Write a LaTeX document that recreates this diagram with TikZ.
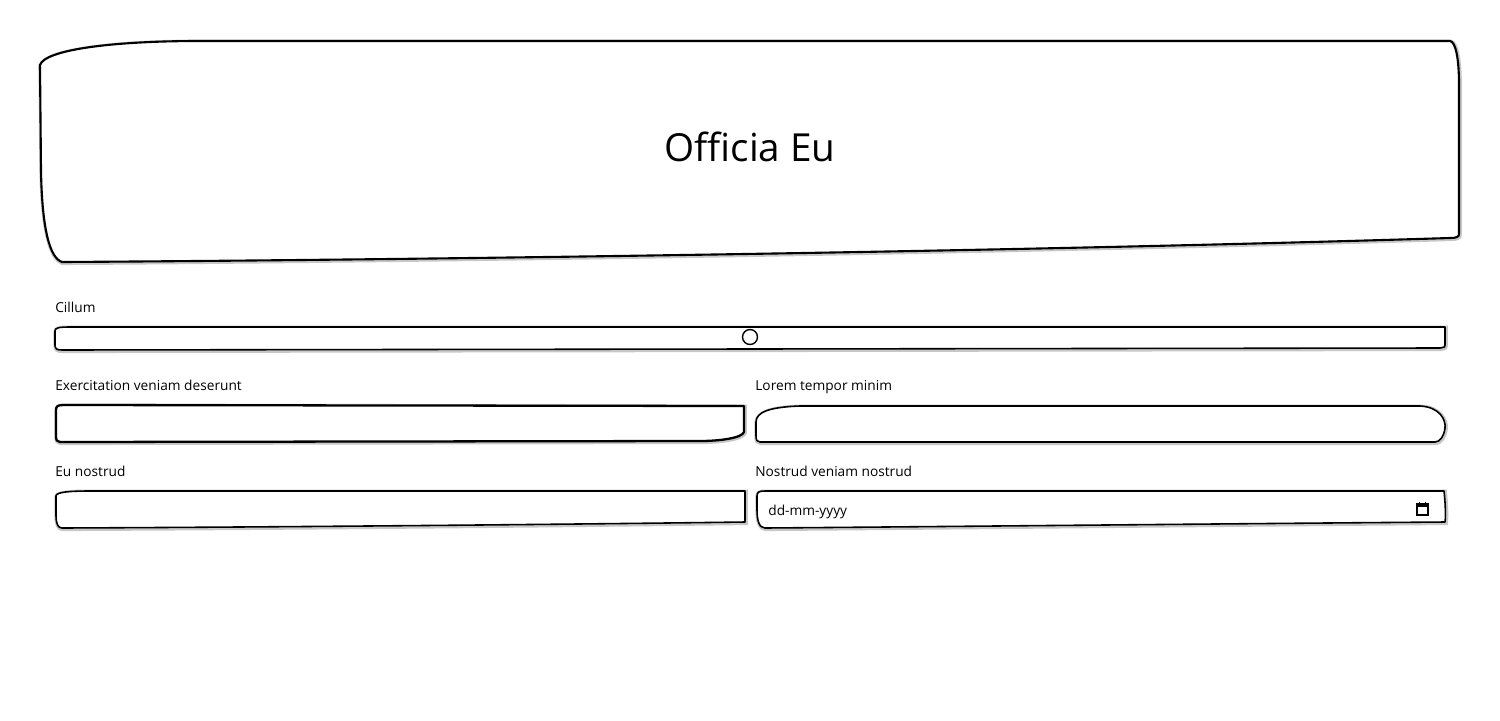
\documentclass[tikz,border=0pt]{standalone}
\usepackage{fontspec}
\setmainfont{Open Sans}

\tikzset{
    sketch/.style={draw=black, fill=white, line width=0.9pt, line join=round,
        preaction={draw=black!22, line width=2.6pt, transform canvas={xshift=0.35pt, yshift=-0.45pt}}},
    label/.style={anchor=base west, inner sep=0pt, font=\fontsize{7.8}{9}\selectfont}
}

\begin{document}
\begin{tikzpicture}[x=0.02cm, y=-0.02cm]
        \useasboundingbox (0, 0) rectangle (1500, 720);

        % header
        \draw[sketch, line width=1.2pt] (40, 65) .. controls (45, 50) and (110, 41) .. (200, 41)
            -- (1450, 41) .. controls (1456, 42) and (1459, 60) .. (1459, 85)
            -- (1459, 234) .. controls (1459, 237) and (1456, 238) .. (1450, 238)
            .. controls (1000, 252) and (400, 260) .. (62, 262)
            .. controls (50, 258) and (42, 230) .. (41, 170) -- cycle;
        \node[font=\fontsize{22}{24}\selectfont] (title) at (750, 147) {Officia Eu};

        % slider
        \node[label] (cillum) at (55, 312) {Cillum};
        \draw[sketch] (55, 331) .. controls (55, 328) and (58, 327) .. (70, 327)
            -- (1445, 327) -- (1445, 345) .. controls (1445, 347) .. (1440, 348)
            -- (62, 350) .. controls (57, 350) and (55, 349) .. (55, 345) -- cycle;
        \draw[fill=white, line width=0.8pt] (750, 337) circle (7.5);

        % first row
        \node[label] (exercitation) at (55, 390) {Exercitation veniam deserunt};
        \draw[sketch, line width=1.3pt] (56, 410) .. controls (56, 406) and (58, 405) .. (64, 405)
            -- (744, 406) -- (744, 432) .. controls (742, 438) and (720, 441) .. (700, 441)
            -- (60, 442) .. controls (57, 442) and (56, 440) .. (56, 436) -- cycle;

        \node[label] (lorem) at (755, 390) {Lorem tempor minim};
        \draw[sketch] (756, 422) .. controls (756, 412) and (770, 407) .. (800, 406)
            -- (1420, 406) .. controls (1440, 407) and (1446, 420) .. (1445, 428)
            .. controls (1444, 436) and (1440, 442) .. (1435, 442)
            -- (760, 442) .. controls (757, 442) and (756, 440) .. (756, 436) -- cycle;

        % second row
        \node[label] (eunostrud) at (55, 476) {Eu nostrud};
        \draw[sketch] (56, 496) .. controls (56, 492) and (70, 491) .. (90, 491)
            -- (745, 491) -- (745, 522) .. controls (600, 524) and (300, 527) .. (62, 528)
            .. controls (58, 528) and (56, 524) .. (56, 515) -- cycle;

        \node[label] (nostrud) at (755, 476) {Nostrud veniam nostrud};
        \draw[sketch] (757, 496) .. controls (757, 492) and (759, 491) .. (765, 491)
            -- (1444, 491) .. controls (1445, 500) and (1446, 515) .. (1445, 522)
            .. controls (1200, 524) and (900, 527) .. (765, 528)
            .. controls (759, 528) and (757, 520) .. (757, 510) -- cycle;
        \node[label] (date) at (768, 515) {dd-mm-yyyy};

        % calendar icon
        \draw[line width=0.6pt] (1417, 504) rectangle (1428, 515);
        \fill (1417, 504) rectangle (1428, 507);
        \draw[line width=0.6pt] (1419.5, 501.5) -- (1419.5, 504) (1425.5, 501.5) -- (1425.5, 504);
    \end{tikzpicture}
\end{document}
